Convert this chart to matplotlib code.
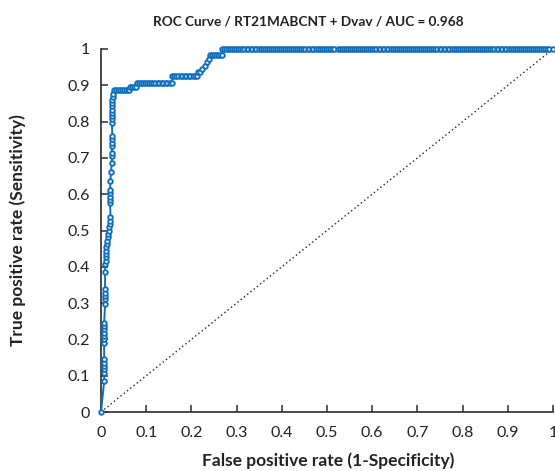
import matplotlib
matplotlib.use("Agg")
import matplotlib.pyplot as plt

plt.rcParams['font.family'] = ['Lato', 'DejaVu Sans']

title = "ROC Curve / RT21MABCNT + Dvav / AUC = 0.968"
xlabel = "False positive rate (1-Specificity)"
ylabel = "True positive rate (Sensitivity)"
ticks = [0, 0.1, 0.2, 0.3, 0.4, 0.5, 0.6, 0.7, 0.8, 0.9, 1]
tick_labels = ["0", "0.1", "0.2", "0.3", "0.4", "0.5", "0.6", "0.7", "0.8", "0.9", "1"]

# rising part of the ROC curve
fpr_rise = [0, 0.007, 0.007, 0.007, 0.007, 0.007, 0.007, 0.007, 0.007, 0.007, 0.007,
            0.007, 0.007, 0.007, 0.009, 0.009, 0.009, 0.009, 0.009, 0.009, 0.009,
            0.010, 0.010, 0.010, 0.011, 0.011, 0.013, 0.014, 0.015, 0.016, 0.017,
            0.018, 0.019, 0.020, 0.021, 0.020, 0.020, 0.020, 0.020, 0.020, 0.021,
            0.022, 0.024, 0.024, 0.024, 0.024, 0.024, 0.024, 0.025, 0.024, 0.024,
            0.025, 0.025, 0.025, 0.025, 0.025, 0.025, 0.026, 0.027]
tpr_rise = [0, 0.085, 0.108, 0.118, 0.127, 0.136, 0.145, 0.189, 0.200, 0.209, 0.218,
            0.228, 0.237, 0.246, 0.297, 0.310, 0.320, 0.329, 0.338, 0.385, 0.408,
            0.417, 0.426, 0.435, 0.444, 0.454, 0.463, 0.472, 0.481, 0.490, 0.499,
            0.509, 0.518, 0.527, 0.536, 0.575, 0.584, 0.593, 0.602, 0.612, 0.637,
            0.662, 0.687, 0.705, 0.714, 0.733, 0.742, 0.751, 0.760, 0.797, 0.806,
            0.815, 0.824, 0.833, 0.842, 0.851, 0.860, 0.869, 0.877]

# shoulder of the ROC curve (steps between 0.88 and 0.98)
fpr_step = [0.029, 0.033, 0.038, 0.042, 0.047, 0.051, 0.056, 0.060, 0.063,
            0.065, 0.069, 0.074, 0.078,
            0.080, 0.084, 0.089, 0.093, 0.098, 0.102, 0.107, 0.111, 0.116, 0.120,
            0.125, 0.129, 0.134, 0.138, 0.143, 0.147, 0.152, 0.156,
            0.158, 0.162, 0.167, 0.171, 0.176, 0.180, 0.185, 0.189, 0.194, 0.198,
            0.203, 0.207, 0.212,
            0.214, 0.218, 0.223, 0.229, 0.235, 0.239,
            0.241, 0.245, 0.250, 0.254, 0.259, 0.263, 0.267]
tpr_step = [0.886] * 9 + [0.896] * 4 + [0.907] * 18 + [0.926] * 13 + \
           [0.936, 0.936, 0.945, 0.954, 0.963, 0.972] + [0.983] * 7

# plateau at sensitivity 1
fpr_flat = [0.268, 0.272, 0.277, 0.281, 0.286, 0.290, 0.295, 0.299, 0.304, 0.308,
            0.313, 0.317, 0.322, 0.326, 0.331, 0.335, 0.340, 0.344, 0.349, 0.353,
            0.358, 0.362, 0.367, 0.371, 0.376, 0.380, 0.385, 0.389, 0.394, 0.398,
            0.403, 0.407, 0.412, 0.416, 0.421, 0.425, 0.430, 0.434, 0.439, 0.443,
            0.448, 0.452, 0.457, 0.461, 0.466, 0.470, 0.475, 0.479, 0.484, 0.488,
            0.493, 0.497, 0.502, 0.506, 0.511, 0.515, 0.524, 0.528, 0.533, 0.537,
            0.542, 0.546, 0.551, 0.555, 0.560, 0.564, 0.569, 0.573, 0.578, 0.582,
            0.587, 0.591, 0.596, 0.600, 0.605, 0.609, 0.614, 0.618, 0.623, 0.627,
            0.632, 0.636, 0.641, 0.645, 0.650, 0.654, 0.659, 0.663, 0.668, 0.672,
            0.677, 0.681, 0.686, 0.690, 0.695, 0.699, 0.704, 0.708, 0.713, 0.717,
            0.722, 0.726, 0.731, 0.735, 0.740, 0.744, 0.749, 0.753, 0.758, 0.762,
            0.767, 0.771, 0.776, 0.780, 0.785, 0.789, 0.794, 0.798, 0.803, 0.807,
            0.812, 0.816, 0.821, 0.825, 0.830, 0.834, 0.839, 0.843, 0.848, 0.852,
            0.857, 0.861, 0.866, 0.870, 0.875, 0.879, 0.884, 0.888, 0.893, 0.897,
            0.902, 0.906, 0.911, 0.915, 0.920, 0.924, 0.929, 0.933, 0.938, 0.942,
            0.947, 0.951, 0.956, 0.960, 0.965, 0.969, 0.974, 0.978, 0.983, 0.987,
            0.992, 1.0]
tpr_flat = [1.0] * len(fpr_flat)

fpr = fpr_rise + fpr_step + fpr_flat
tpr = tpr_rise + tpr_step + tpr_flat

diag = [0, 1]

blue = '#0e6fbf'
dark = '#2b2b2b'

fig = plt.figure(figsize=(5.55, 4.71), dpi=100)
ax = fig.add_axes([101 / 555, 1 - 412 / 471, 452 / 555, 363 / 471])

ax.plot(diag, diag, linestyle=(0, (1, 2)), color='#222222', linewidth=1.0, zorder=2)
ax.plot(fpr, tpr, color=blue, linewidth=1.4, marker='o', markersize=3.3,
        markerfacecolor='white', markeredgecolor=blue, markeredgewidth=1.35,
        clip_on=False, zorder=3)

ax.set_xlim(0, 1)
ax.set_ylim(0, 1)
ax.set_xticks(ticks)
ax.set_xticklabels(tick_labels)
ax.set_yticks(ticks)
ax.set_yticklabels(tick_labels)

for s in ['top', 'right']:
    ax.spines[s].set_visible(False)
for s in ['left', 'bottom']:
    ax.spines[s].set_color(dark)
    ax.spines[s].set_linewidth(1.2)

ax.tick_params(direction='in', length=5, width=1.1, color=dark,
               labelcolor='#222222', labelsize=11.5)
ax.tick_params(axis='x', pad=10)
ax.tick_params(axis='y', pad=8)

fig.text(308.5 / 555, 1 - 21 / 471, title, ha='center', va='center',
         fontsize=9.8, fontweight='bold', color='#222222')
fig.text(328 / 555, 1 - 461 / 471, xlabel, ha='center', va='center',
         fontsize=12.5, fontweight='bold', color='#222222')
fig.text(18 / 555, 1 - 230 / 471, ylabel, ha='center', va='center',
         rotation=90, fontsize=12.5, fontweight='bold', color='#222222')

fig.savefig('out.png', dpi=100)
